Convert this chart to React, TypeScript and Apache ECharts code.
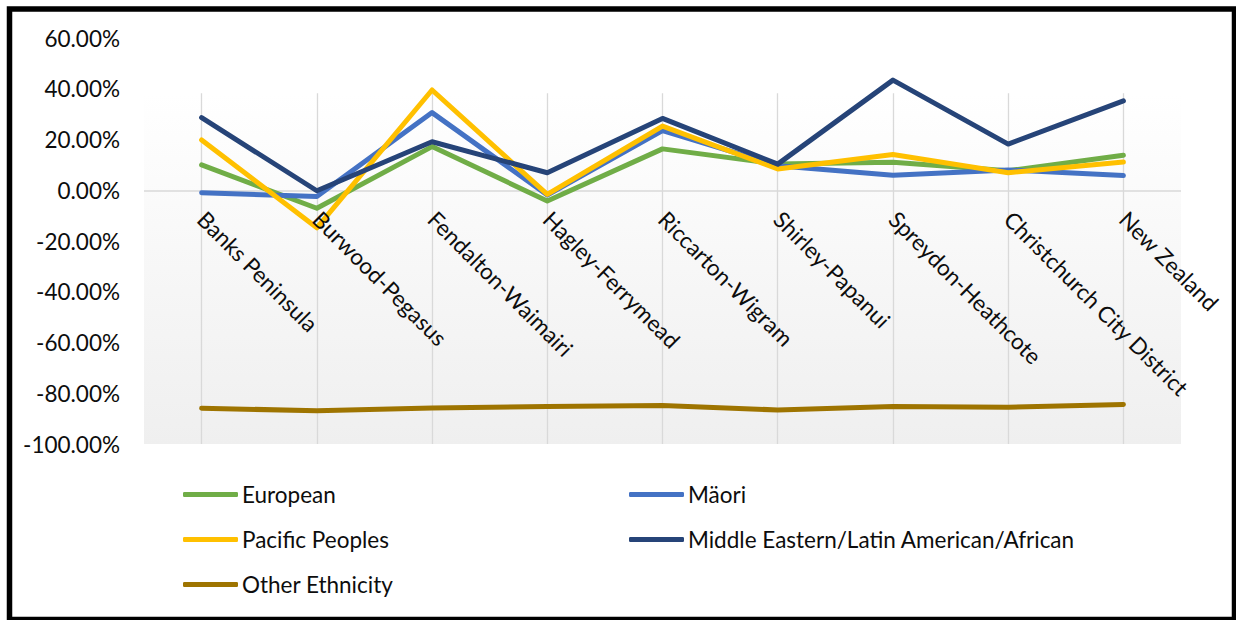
import React, { useEffect, useRef } from "react";
import * as echarts from "echarts";

// Wards along the category axis
const categories = [
  "Banks Peninsula",
  "Burwood-Pegasus",
  "Fendalton-Waimairi",
  "Hagley-Ferrymead",
  "Riccarton-Wigram",
  "Shirley-Papanui",
  "Spreydon-Heathcote",
  "Christchurch City District",
  "New Zealand",
];

// Percentage change per ethnic group
const european = [10.0, -7.1, 17.2, -4.2, 16.3, 10.3, 11.0, 7.7, 13.8];
const maori = [-1.0, -2.5, 30.6, -1.9, 23.5, 9.7, 5.9, 8.0, 5.8];
const pacific = [19.8, -14.8, 39.5, -1.6, 25.3, 8.4, 14.1, 6.9, 11.1];
const melaa = [28.6, -0.2, 19.1, 6.9, 28.3, 10.3, 43.4, 18.2, 35.2];
const other = [-85.9, -86.9, -85.8, -85.2, -84.8, -86.6, -85.2, -85.5, -84.4];

const seriesNames = [
  "European",
  "Mäori",
  "Pacific Peoples",
  "Middle Eastern/Latin American/African",
  "Other Ethnicity",
];
const seriesData = [european, maori, pacific, melaa, other];
const seriesColors = ["#70AD47", "#4472C4", "#FFC000", "#264478", "#9E7400"];

// Value axis range
const yMin = -100;
const yMax = 60;
const yStep = 20;
// Upper edge of the shaded plot panel (in axis units)
const panelTop = 38.2;

const FONT = "Lato, 'Open Sans', sans-serif";
const TEXT = "#0d0d0d";
const FONT_SIZE = 22.5;

const GRID_TOP = 38;
const GRID_BOTTOM = 176;
const CHART_H = 620;

export default function App() {
  const ref = useRef<HTMLDivElement>(null);

  useEffect(() => {
    if (!ref.current) return;
    const chart = echarts.init(ref.current, undefined, { renderer: "svg" });

    // Shift the category axis up so its labels hang from the zero line
    const gridHeight = CHART_H - GRID_TOP - GRID_BOTTOM;
    const zeroOffset = -gridHeight * (0 - yMin) / (yMax - yMin);

    const lineSeries = seriesNames.map((name, i) => ({
      name,
      type: "line",
      xAxisIndex: 0,
      yAxisIndex: 0,
      data: seriesData[i],
      symbol: "none",
      z: 5,
      lineStyle: { color: seriesColors[i], width: 5, cap: "round", join: "round" },
      itemStyle: { color: seriesColors[i] },
    }));

    const lastX = categories.length - 0.5;

    // Panel shading, zero line and vertical category gridlines on a hidden value axis
    const panelSeries = {
      name: "panel",
      type: "line",
      xAxisIndex: 1,
      yAxisIndex: 0,
      data: [],
      silent: true,
      z: 1,
      markArea: {
        silent: true,
        itemStyle: {
          color: new echarts.graphic.LinearGradient(0, 0, 0, 1, [
            { offset: 0, color: "#ffffff" },
            { offset: 1, color: "#efefef" },
          ]),
        },
        data: [[{ coord: [-0.5, panelTop] }, { coord: [lastX, yMin] }]],
      },
      markLine: {
        silent: true,
        symbol: "none",
        label: { show: false },
        lineStyle: { color: "#d9d9d9", width: 1.3, type: "solid" },
        data: [
          ...categories.map((_, i) => [{ coord: [i, panelTop] }, { coord: [i, yMin] }]),
          [
            { coord: [-0.5, 0], lineStyle: { width: 1.6, color: "#d9d9d9" } },
            { coord: [lastX, 0] },
          ],
        ],
      },
    };

    // One legend block per entry, laid out in two columns
    const legendPos = [
      { left: 183, top: 483 },
      { left: 629, top: 483 },
      { left: 183, top: 528 },
      { left: 629, top: 528 },
      { left: 183, top: 573 },
    ];

    const option = {
      animation: false,
      backgroundColor: "#ffffff",
      textStyle: { fontFamily: FONT },
      grid: { left: 144, right: 55, top: GRID_TOP, bottom: GRID_BOTTOM, containLabel: false },
      xAxis: [
        {
          type: "category",
          data: categories,
          boundaryGap: true,
          offset: zeroOffset,
          axisLine: { show: false, onZero: false },
          axisTick: { show: false },
          splitLine: { show: false },
          axisLabel: {
            rotate: -45,
            interval: 0,
            margin: 25,
            color: TEXT,
            fontSize: FONT_SIZE,
            fontFamily: FONT,
          },
          z: 10,
        },
        {
          type: "value",
          min: -0.5,
          max: lastX,
          show: false,
        },
      ],
      yAxis: {
        type: "value",
        min: yMin,
        max: yMax,
        interval: yStep,
        axisLine: { show: false },
        axisTick: { show: false },
        splitLine: { show: false },
        axisLabel: {
          margin: 24,
          color: TEXT,
          fontSize: FONT_SIZE,
          fontFamily: FONT,
          formatter: (v: number) => v.toFixed(2) + "%",
        },
      },
      legend: seriesNames.map((name, i) => ({
        data: [name],
        left: legendPos[i].left,
        top: legendPos[i].top,
        orient: "horizontal",
        icon: "roundRect",
        itemWidth: 55,
        itemHeight: 5,
        itemGap: 4,
        padding: 0,
        selectedMode: false,
        textStyle: { color: TEXT, fontSize: FONT_SIZE, fontFamily: FONT, padding: [0, 0, 0, -1] },
      })),
      graphic: [
        {
          type: "rect",
          z: 100,
          silent: true,
          shape: { x: 9.5, y: 9, width: 1225, height: 610.5 },
          style: { fill: "none", stroke: "#000000", lineWidth: 5.5 },
        },
      ],
      series: [panelSeries, ...lineSeries],
    };

    chart.setOption(option as any);
    return () => chart.dispose();
  }, []);

  return (
    <div
      ref={ref}
      style={{ position: "fixed", left: 0, top: 0, width: 1236, height: 620, background: "#fff" }}
    />
  );
}
